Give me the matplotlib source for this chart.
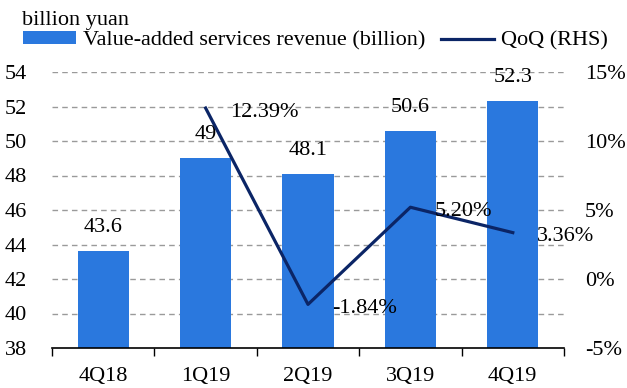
import matplotlib
matplotlib.use("Agg")
import matplotlib.pyplot as plt
import numpy as np
from matplotlib.lines import Line2D
from matplotlib.patches import Patch

# Quarterly value-added services revenue and quarter-on-quarter growth
quarters = ["4Q18", "1Q19", "2Q19", "3Q19", "4Q19"]
revenue = [43.6, 49, 48.1, 50.6, 52.3]
qoq_quarters = ["1Q19", "2Q19", "3Q19", "4Q19"]
qoq_pct = [12.39, -1.84, 5.20, 3.36]
left_ticks = [38, 40, 42, 44, 46, 48, 50, 52, 54]
right_ticks = [-5, 0, 5, 10, 15]

BAR_COLOR = "#2a78de"
LINE_COLOR = "#0b2566"
FS = 16

plt.rcParams["font.family"] = "serif"
plt.rcParams["font.serif"] = ["Liberation Serif", "DejaVu Serif"]
plt.rcParams["font.size"] = FS

fig = plt.figure(figsize=(6.27, 3.88), dpi=100)
ax = fig.add_axes([52 / 627, 40 / 388, (564 - 52) / 627, (348 - 72) / 388])
ax2 = ax.twinx()

x = np.arange(len(quarters))
ax.bar(x, revenue, width=0.5, color=BAR_COLOR, zorder=2)
ax.set_xlim(-0.5, len(quarters) - 0.5)
ax.set_ylim(left_ticks[0], left_ticks[-1])
ax.set_yticks(left_ticks)
ax.set_yticklabels([str(t) for t in left_ticks])

# dashed horizontal grid (skip the baseline)
for t in left_ticks[1:]:
    ax.axhline(t, color="#9a9a9a", lw=1.0, ls=(0, (4, 3)), zorder=1)

ax.set_xticks(x)
ax.set_xticklabels(quarters)
ax.set_xticks(np.arange(-0.5, len(quarters)), minor=True)
ax.tick_params(axis="x", which="major", length=0, pad=14)
ax.tick_params(axis="x", which="minor", length=6, width=1, direction="out")
ax.tick_params(axis="y", length=0, pad=18)

for s in ["top", "left", "right"]:
    ax.spines[s].set_visible(False)
    ax2.spines[s].set_visible(False)
ax.spines["bottom"].set_linewidth(1.2)
ax2.spines["bottom"].set_visible(False)

for xi, v in zip(x, revenue):
    ax.annotate(f"{v:g}", (xi, v), xytext=(0, 17), textcoords="offset points",
                ha="center", va="center", fontsize=FS)

# QoQ line on the right axis
qx = [quarters.index(q) for q in qoq_quarters]
ax2.plot(qx, qoq_pct, color=LINE_COLOR, lw=2.3, zorder=3)
ax2.set_ylim(right_ticks[0], right_ticks[-1])
ax2.set_yticks(right_ticks)
ax2.set_yticklabels([f"{t}%" for t in right_ticks])
ax2.tick_params(axis="y", length=0, pad=15)

for xi, v in zip(qx, qoq_pct):
    ax2.annotate(f"{v:.2f}%", (xi, v), xytext=(17.3, -2.9), textcoords="offset points",
                 ha="left", va="center", fontsize=FS)

ax.set_zorder(ax2.get_zorder() - 1)
ax.patch.set_visible(False)

fig.text(22 / 627, 1 - 20 / 388, "billion yuan", ha="left", va="center", fontsize=FS)

handles = [Patch(facecolor=BAR_COLOR, edgecolor="none"),
           Line2D([0], [0], color=LINE_COLOR, lw=2.3)]
fig.legend(handles, ["Value-added services revenue (billion)", "QoQ (RHS)"],
           loc="center left", bbox_to_anchor=(23 / 627, 1 - 41 / 388), ncol=2,
           frameon=False, borderpad=0, borderaxespad=0, handlelength=2.4,
           handleheight=0.5, handletextpad=0.3, columnspacing=0.7, fontsize=FS)

fig.savefig("out.png", dpi=100)
